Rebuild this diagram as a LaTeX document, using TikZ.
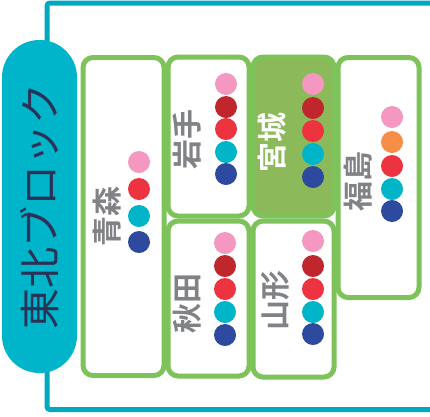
\documentclass[tikz,border=0pt]{standalone}
\usepackage{fontspec}
\newfontfamily\jpfont{Noto Sans CJK JP}
\newfontfamily\jpbold{Noto Sans CJK JP}[BoldFont={* Bold}]
\definecolor{bracketc}{HTML}{00A9C2}
\definecolor{pillc}{HTML}{00B4C9}
\definecolor{navyc}{HTML}{2B3157}
\definecolor{greenc}{HTML}{7DC35A}
\definecolor{greenfill}{HTML}{8CBA5B}
\definecolor{grayc}{HTML}{808285}
\definecolor{pinkc}{HTML}{F497C1}
\definecolor{dredc}{HTML}{C0272D}
\definecolor{redc}{HTML}{EE3340}
\definecolor{tealc}{HTML}{00B5C8}
\definecolor{bluec}{HTML}{2E4A9E}
\definecolor{orangec}{HTML}{F68E48}
\tikzset{
  prefbox/.style={draw=greenc, line width=5pt, rounded corners=10pt, minimum width=81pt, inner sep=0pt, fill=white},
  dot/.style={circle, inner sep=0pt, minimum size=22pt, fill=#1},
  preflabel/.style={rotate=90, text=grayc, font=\jpbold\bfseries\fontsize{30}{30}\selectfont, inner sep=0pt},
}
\begin{document}
\begin{tikzpicture}[x=1pt,y=-1pt]
\useasboundingbox (0,0) rectangle (430,416);
% bracket
\coordinate (btr) at (430,3);
\coordinate (btl) at (47,3);
\coordinate (bbl) at (47,409.5);
\coordinate (bbr) at (430,409.5);
\draw[bracketc, line width=5pt, rounded corners=3pt] (btr) -- (btl) -- (bbl) -- (bbr);
% pill
\node[fill=pillc, rounded corners=37.4pt, minimum width=75pt, minimum height=333pt, inner sep=0pt] (pill) at (39.5,206.5) {};
\node[rotate=90, text=navyc, font=\jpfont\fontsize{41}{41}\selectfont, inner sep=0pt] (pilltext) at (pill.center) {東北ブロック};
% boxes
\node[prefbox, minimum height=318pt] (aomori) at (123.5,216.5) {};
\node[prefbox, minimum height=159pt] (iwate) at (208.5,136.5) {};
\node[prefbox, minimum height=155pt] (akita) at (208.5,298.5) {};
\node[prefbox, minimum height=159pt, fill=greenfill] (miyagi) at (293.5,136.5) {};
\node[prefbox, minimum height=156pt] (yamagata) at (293.5,299) {};
\node[prefbox, minimum height=240pt] (fukushima) at (378.5,177.5) {};
% labels
\node[preflabel] (taomori) at (107,216) {青森};
\node[preflabel] (tiwate) at (187,139) {岩手};
\node[preflabel] (takita) at (187,303) {秋田};
\node[preflabel, text=white] (tmiyagi) at (272,142) {宮城};
\node[preflabel] (tyamagata) at (275,300) {山形};
\node[preflabel] (tfukushima) at (358,181) {福島};
% dots aomori
\node[dot=pinkc] (a1) at (139,162) {};
\node[dot=redc] (a2) at (139,189) {};
\node[dot=tealc] (a3) at (139,216) {};
\node[dot=bluec] (a4) at (139,242) {};
% iwate
\node[dot=pinkc] (i1) at (226,84) {};
\node[dot=dredc] (i2) at (226,107) {};
\node[dot=redc] (i3) at (226,129) {};
\node[dot=tealc] (i4) at (226,152) {};
\node[dot=bluec] (i5) at (226,174) {};
% akita
\node[dot=pinkc] (k1) at (225,243) {};
\node[dot=dredc] (k2) at (225,266) {};
\node[dot=redc] (k3) at (225,289) {};
\node[dot=tealc] (k4) at (225,312) {};
\node[dot=bluec] (k5) at (225,335) {};
% miyagi
\node[dot=pinkc] (m1) at (313,84) {};
\node[dot=dredc] (m2) at (313,108) {};
\node[dot=redc] (m3) at (313,131) {};
\node[dot=tealc] (m4) at (313,154) {};
\node[dot=bluec] (m5) at (313,177) {};
% yamagata
\node[dot=pinkc] (y1) at (313,241) {};
\node[dot=dredc] (y2) at (313,266) {};
\node[dot=redc] (y3) at (313,289) {};
\node[dot=tealc] (y4) at (313,312) {};
\node[dot=bluec] (y5) at (313,334) {};
% fukushima
\node[dot=pinkc] (f1) at (392,117) {};
\node[dot=orangec] (f2) at (392,142) {};
\node[dot=redc] (f3) at (392,166) {};
\node[dot=tealc] (f4) at (392,189) {};
\node[dot=bluec] (f5) at (392,211) {};
\end{tikzpicture}
\end{document}
